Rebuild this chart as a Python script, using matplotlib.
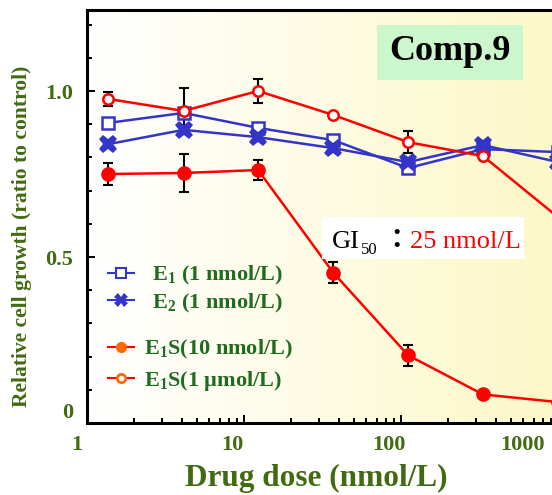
import matplotlib.pyplot as plt
import numpy as np
from matplotlib.lines import Line2D
from matplotlib.patches import Rectangle
from matplotlib.transforms import ScaledTranslation

plt.rcParams['font.family'] = ['Liberation Serif', 'DejaVu Sans']
plt.rcParams['mathtext.fontset'] = 'custom'
plt.rcParams['mathtext.rm'] = 'Liberation Serif'
plt.rcParams['mathtext.bf'] = 'Liberation Serif:bold'

# data
dose = [1.37, 4.12, 12.3, 37.0, 111.0, 333.0, 1000.0]
e1 = [0.904, 0.934, 0.889, 0.852, 0.768, 0.825, 0.816]
e2 = [0.840, 0.883, 0.861, 0.828, 0.786, 0.837, 0.786]
e1s_10n = [0.750, 0.753, 0.762, 0.453, 0.204, 0.086, 0.063]
e1s_10n_err = [0.032, 0.057, 0.030, 0.032, 0.032, 0.0, 0.0]
e1s_1u = [0.976, 0.940, 1.000, 0.928, 0.846, 0.804, 0.620]
e1s_1u_err = [0.020, 0.070, 0.035, 0.0, 0.033, 0.0, 0.0]

xticks = [1, 10, 100, 1000]
xticklabels = ['1', '10', '100', '1000']
yticks = [0, 0.5, 1.0]
yticklabels = ['0', '0.5', '1.0']

BLUE = '#3434c8'
RED = '#ff0000'
ORANGE = '#ff6a00'
OLIVE = '#406b10'
LEG_GREEN = '#1f6b1f'

W, H = 552, 495
fig = plt.figure(figsize=(W / 100, H / 100), dpi=100)
# axes run past the right edge, the reference is a crop
ax = fig.add_axes([87 / W, (H - 423) / H, 628 / W, 413 / H])
ax.set_xscale('log')
ax.set_xlim(1, 1e4)
ax.set_ylim(0, 1.244)

# white -> pale yellow background
vis = (W - 87) / 628
t = np.clip(np.linspace(0, 1, 256) / vis, 0, 1.1)
c0 = np.array([1.0, 1.0, 1.0])
c1 = np.array([252, 248, 200]) / 255
grad = c0[None, :] + (c1 - c0)[None, :] * t[:, None]
grad = np.clip(grad, 0, 1)[None, :, :]
ax.imshow(grad, extent=[0, 1, 0, 1], transform=ax.transAxes, aspect='auto', zorder=0)

ax.errorbar(dose, e1s_10n, yerr=e1s_10n_err, fmt='none', ecolor='black', elinewidth=1.5, capsize=3.5, capthick=1.5, zorder=2)
ax.errorbar(dose, e1s_1u, yerr=e1s_1u_err, fmt='none', ecolor='black', elinewidth=1.5, capsize=3.5, capthick=1.5, zorder=2)

ax.plot(dose, e1, color=BLUE, lw=1.8, marker='s', ms=8, mfc='white', mec=BLUE, mew=1.8, zorder=3, clip_on=False)
ax.plot(dose, e2, color=BLUE, lw=1.8, marker='X', ms=13, mfc=BLUE, mec=BLUE, mew=0, zorder=3, clip_on=False)
ax.plot(dose, e1s_10n, color=RED, lw=1.8, marker='o', ms=9.5, mfc=RED, mec=RED, zorder=4, clip_on=False)
ax.plot(dose, e1s_1u, color=RED, lw=1.8, marker='o', ms=7.5, mfc='white', mec=RED, mew=1.8, zorder=4, clip_on=False)

# axes styling
for s in ['left', 'bottom', 'top']:
    ax.spines[s].set_linewidth(2.2)
ax.spines['right'].set_visible(False)
ax.tick_params(which='both', direction='in', width=1.4, top=False, right=False)
ax.tick_params(which='major', length=6)
ax.tick_params(which='minor', length=3.5)
ax.set_xticks(xticks)
ax.set_xticklabels(xticklabels)
ax.set_yticks(yticks)
ax.set_yticklabels(yticklabels)
ax.set_yticks(np.arange(0, 1.25, 0.1), minor=True)
ax.tick_params(axis='x', which='major', pad=9, labelsize=16, labelcolor=OLIVE)
ax.tick_params(axis='y', which='major', pad=10, labelsize=16, labelcolor=OLIVE)
for lab in ax.get_xticklabels() + ax.get_yticklabels():
    lab.set_fontweight('bold')

# the original has its tick labels nudged
x_shift = [-10, -12, -12, -35]
for lab, dx in zip(ax.get_xticklabels(), x_shift):
    lab.set_transform(lab.get_transform() + ScaledTranslation(dx / 100, 0, fig.dpi_scale_trans))
zero_lab = ax.get_yticklabels()[0]
zero_lab.set_transform(zero_lab.get_transform() + ScaledTranslation(0, 13 / 100, fig.dpi_scale_trans))

ax.set_ylabel('Relative cell growth (ratio to control)', fontsize=15.5, fontweight='bold', color=OLIVE)
ax.yaxis.set_label_coords((32 - 87) / 628, (423 - 236) / 413)
fig.text(316 / W, 1 - 486 / H, 'Drug dose (nmol/L)', fontsize=22.5, fontweight='bold', color=OLIVE,
         ha='center', va='baseline')

# Comp.9 box
fig.patches.append(Rectangle((377 / W, 1 - 80 / H), 146 / W, 55 / H, transform=fig.transFigure,
                             facecolor='#ccf7cc', edgecolor='none', zorder=5))
fig.text(450 / W, 1 - 52 / H, 'Comp.9', fontsize=26, fontweight='bold', color='black',
         ha='center', va='center', zorder=6)

# GI50 box
fig.patches.append(Rectangle((322 / W, 1 - 259 / H), 202 / W, 42 / H, transform=fig.transFigure,
                             facecolor='white', edgecolor='none', zorder=5))
base = 1 - 248 / H
fig.text(332 / W, base, 'GI', fontsize=19, color='black', ha='left', va='baseline', zorder=6)
fig.text(361 / W, 1 - 254 / H, '50', fontsize=12, color='black', ha='left', va='baseline', zorder=6)
fig.text(383 / W, base, '：', fontsize=19, color='black', ha='left', va='baseline', zorder=6,
         family=['Noto Sans CJK JP', 'DejaVu Sans'], fontweight='bold')
fig.text(410 / W, base, '25 nmol/L', fontsize=19, color=RED, ha='left', va='baseline', zorder=6)

# legends
leg_font = {'family': 'Liberation Serif', 'weight': 'bold', 'size': 16}
h1 = [Line2D([], [], color=BLUE, lw=1.5, marker='s', ms=7, mfc='white', mec=BLUE, mew=1.5),
      Line2D([], [], color=BLUE, lw=1.5, marker='X', ms=10, mfc=BLUE, mec=BLUE, mew=0)]
l1 = [r'E$_{\mathbf{1}}$ (1 nmol/L)', r'E$_{\mathbf{2}}$ (1 nmol/L)']
leg1 = ax.legend(h1, l1, loc='upper left', bbox_to_anchor=(108 / W, 1 - 264 / H),
                 bbox_transform=fig.transFigure, frameon=False, prop=leg_font, labelcolor=LEG_GREEN,
                 handlelength=1.15, handletextpad=0.85, borderpad=0, borderaxespad=0,
                 labelspacing=0.2, numpoints=1)
ax.add_artist(leg1)
h2 = [Line2D([], [], color=RED, lw=1.5, marker='o', ms=7, mfc=ORANGE, mec=ORANGE),
      Line2D([], [], color=RED, lw=1.5, marker='o', ms=6, mfc='white', mec=ORANGE, mew=2)]
l2 = [r'E$_{\mathbf{1}}$S(10 nmol/L)', r'E$_{\mathbf{1}}$S(1 µmol/L)']
ax.legend(h2, l2, loc='upper left', bbox_to_anchor=(108 / W, 1 - 338 / H),
          bbox_transform=fig.transFigure, frameon=False, prop=leg_font, labelcolor=LEG_GREEN,
          handlelength=1.15, handletextpad=0.45, borderpad=0, borderaxespad=0,
          labelspacing=0.35, numpoints=1)

fig.savefig('out.png', dpi=100)
